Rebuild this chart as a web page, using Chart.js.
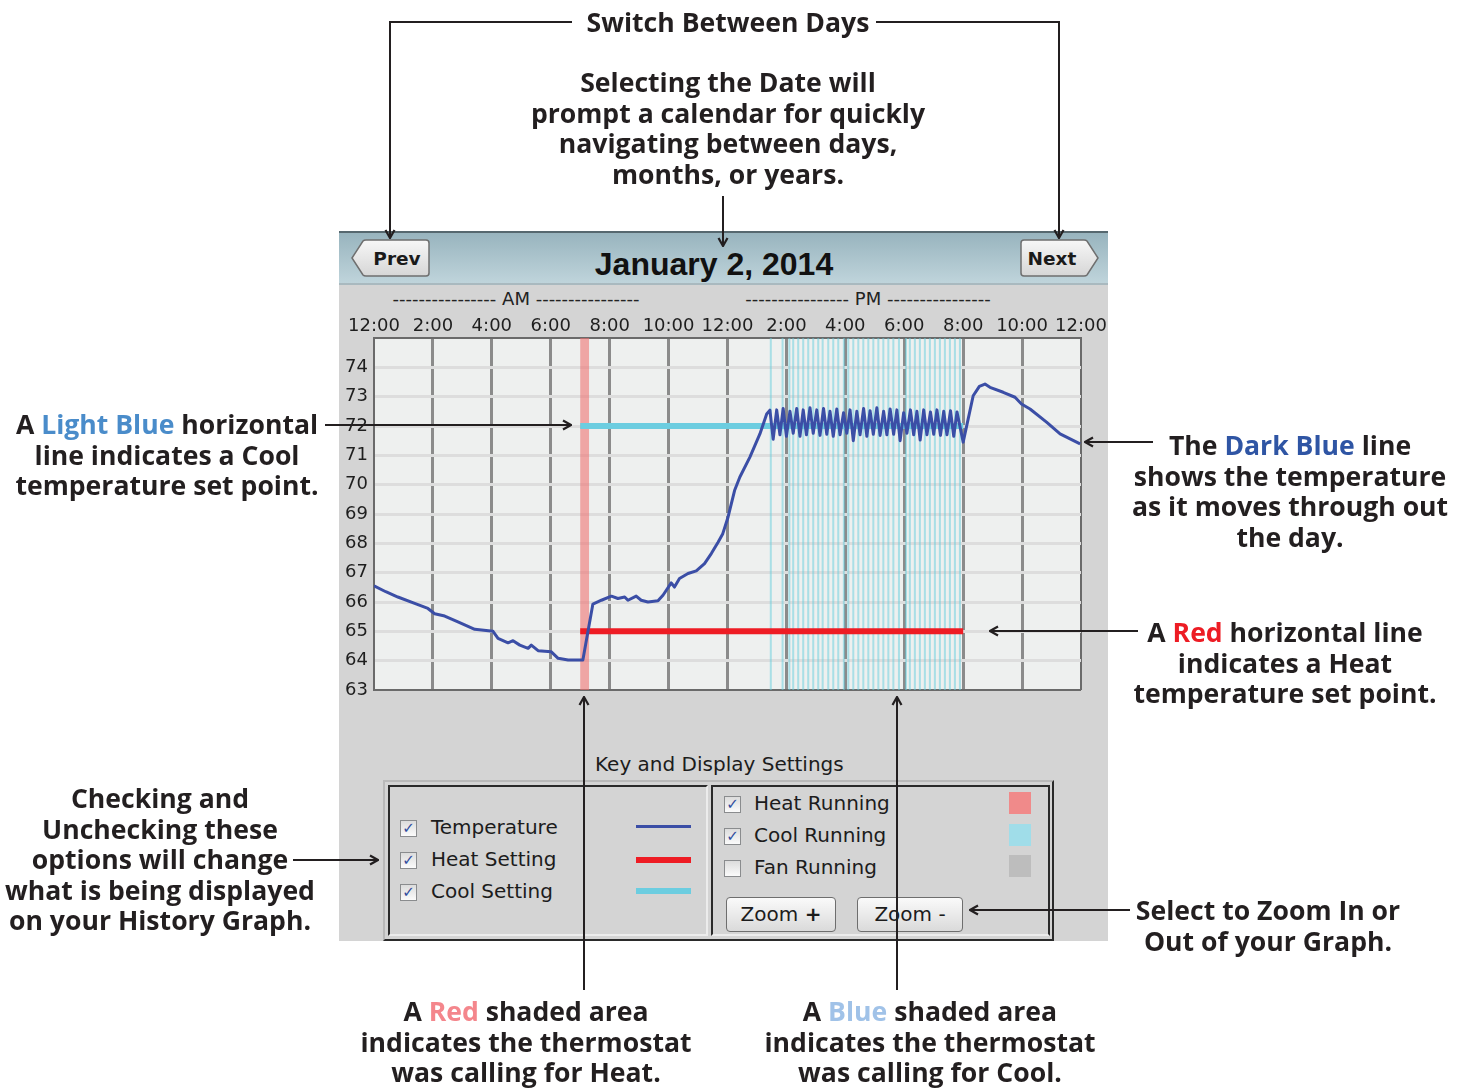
<!DOCTYPE html>
<html>
<head>
<meta charset="utf-8">
<script src="https://cdn.jsdelivr.net/npm/chart.js@4"></script>
<style>
  body { margin: 0; width: 1465px; height: 1088px; background: #fff; position: relative; overflow: hidden; }
  .abs { position: absolute; }
  .note { position: absolute; font-family: 'Open Sans', sans-serif; font-weight: 700; font-size: 26.6px; line-height: 30.5px;
          color: #231f20; text-align: center; white-space: nowrap; transform: translateX(-50%); z-index: 6; }
  #panel { left: 339px; top: 231px; width: 769px; height: 710px; background: #d4d4d4; }
  #head { left: 339px; top: 231px; width: 769px; height: 50px; background: linear-gradient(#98b4be, #bfd4db);
          border-top: 2px solid #56686f; border-bottom: 2px solid #a9b9bf; }
  #title { left: 714px; top: 246px; transform: translateX(-50%); font-family: 'Liberation Sans', sans-serif; font-weight: 700;
           font-size: 32px; color: #111; white-space: nowrap; }
  .ampm { font-family: 'DejaVu Sans', sans-serif; font-size: 18px; color: #222; white-space: nowrap; transform: translateX(-50%); top: 288px; }
  #wrap { left: 340px; top: 300px; width: 800px; height: 400px; z-index: 2; }
  .key { font-family: 'DejaVu Sans', sans-serif; font-size: 20px; color: #1c1c1c; white-space: nowrap; z-index: 3; }
  .cb { width: 15px; height: 15px; border: 1px solid #8a8c8e; background: linear-gradient(#dcdcdc, #fbfbfb); z-index: 3;
        font-family: 'DejaVu Sans', sans-serif; font-weight: 700; font-size: 15px; line-height: 15px; text-align: center; color: #2f4c9e; }
  .btn { border: 1px solid #6e6e6e; border-radius: 4px; background: linear-gradient(#fafafa, #dadada); z-index: 3;
         font-family: 'DejaVu Sans', sans-serif; font-size: 20px; line-height: 33px; text-align: center; color: #1c1c1c; }
  svg.ov { position: absolute; left: 0; top: 0; z-index: 5; }
</style>
</head>
<body>
<div class="abs" id="panel"></div>
<div class="abs" id="head"></div>

<svg class="abs" style="left:350px;top:238px;z-index:3" width="84" height="40">
  <defs><linearGradient id="bg1" x1="0" y1="0" x2="0" y2="1"><stop offset="0" stop-color="#f7f7f7"/><stop offset="1" stop-color="#d6d6d6"/></linearGradient></defs>
  <path d="M2,20 L13,3 Q14,2 16,2 L76,2 Q79,2 79,5 L79,35 Q79,38 76,38 L16,38 Q14,38 13,37 Z" fill="url(#bg1)" stroke="#6f6f6f" stroke-width="1.5"/>
  <text x="47" y="27" text-anchor="middle" font-family="DejaVu Sans" font-weight="700" font-size="18.5" fill="#1a1a1a">Prev</text>
</svg>
<svg class="abs" style="left:1016px;top:238px;z-index:3" width="84" height="40">
  <path d="M82,20 L71,3 Q70,2 68,2 L8,2 Q5,2 5,5 L5,35 Q5,38 8,38 L68,38 Q70,38 71,37 Z" fill="url(#bg1)" stroke="#6f6f6f" stroke-width="1.5"/>
  <text x="36" y="27" text-anchor="middle" font-family="DejaVu Sans" font-weight="700" font-size="18.5" fill="#1a1a1a">Next</text>
</svg>
<div class="abs" id="title">January 2, 2014</div>
<div class="abs ampm" style="left:516px">---------------- AM ----------------</div>
<div class="abs ampm" style="left:868px">---------------- PM ----------------</div>

<div class="abs" id="wrap"><canvas id="history"></canvas></div>

<!-- key and display settings -->
<div class="abs key" style="left:595px;top:752px">Key and Display Settings</div>
<div class="abs" style="left:383px;top:780px;width:667px;height:157px;border-top:2px solid #b9b9b9;border-left:2px solid #b9b9b9;border-right:2px solid #2a2a2a;border-bottom:2px solid #2a2a2a;z-index:3"></div>
<div class="abs" style="left:388px;top:785px;width:316px;height:147px;border-top:2px solid #2a2a2a;border-left:2px solid #2a2a2a;border-right:2px solid #ececec;border-bottom:2px solid #ececec;z-index:3"></div>
<div class="abs" style="left:711px;top:785px;width:335px;height:147px;border-top:2px solid #2a2a2a;border-left:2px solid #2a2a2a;border-right:2px solid #2a2a2a;border-bottom:2px solid #ececec;z-index:3"></div>

<div class="abs cb" style="left:400px;top:820px">✓</div>
<div class="abs cb" style="left:400px;top:852px">✓</div>
<div class="abs cb" style="left:400px;top:884px">✓</div>
<div class="abs key" style="left:431px;top:815px">Temperature</div>
<div class="abs key" style="left:431px;top:847px">Heat Setting</div>
<div class="abs key" style="left:431px;top:879px">Cool Setting</div>
<div class="abs" style="left:636px;top:825px;width:55px;height:3px;background:#3b4ea6;z-index:3"></div>
<div class="abs" style="left:636px;top:857px;width:55px;height:6px;background:#ee1c24;z-index:3"></div>
<div class="abs" style="left:636px;top:888px;width:55px;height:6px;background:#6ccde0;z-index:3"></div>

<div class="abs cb" style="left:724px;top:796px">✓</div>
<div class="abs cb" style="left:724px;top:828px">✓</div>
<div class="abs cb" style="left:724px;top:860px"></div>
<div class="abs key" style="left:754px;top:791px">Heat Running</div>
<div class="abs key" style="left:754px;top:823px">Cool Running</div>
<div class="abs key" style="left:754px;top:855px">Fan Running</div>
<div class="abs" style="left:1009px;top:792px;width:22px;height:22px;background:#f08a8a;z-index:3"></div>
<div class="abs" style="left:1009px;top:824px;width:22px;height:22px;background:#a0dde9;z-index:3"></div>
<div class="abs" style="left:1009px;top:855px;width:22px;height:22px;background:#bdbdbd;z-index:3"></div>
<div class="abs btn" style="left:726px;top:897px;width:108px;height:33px">Zoom <b>+</b></div>
<div class="abs btn" style="left:857px;top:897px;width:104px;height:33px">Zoom -</div>

<!-- callouts -->
<svg class="ov" width="1465" height="1088">
  <defs>
    <marker id="ah" viewBox="0 0 12 12" refX="11" refY="6" markerWidth="12" markerHeight="12" markerUnits="userSpaceOnUse" orient="auto">
      <path d="M3,1.5 L11,6 L3,10.5" fill="none" stroke="#231f20" stroke-width="2.2"/>
    </marker>
  </defs>
  <g fill="none" stroke="#231f20" stroke-width="2">
    <polyline points="572,22 390,22 390,238" marker-end="url(#ah)"/>
    <polyline points="876,22 1059,22 1059,238" marker-end="url(#ah)"/>
    <line x1="723" y1="196" x2="723" y2="246" marker-end="url(#ah)"/>
    <line x1="325" y1="425" x2="571" y2="425" marker-end="url(#ah)"/>
    <line x1="1153" y1="442" x2="1085" y2="442" marker-end="url(#ah)"/>
    <line x1="1138" y1="631" x2="990" y2="631" marker-end="url(#ah)"/>
    <line x1="293" y1="860" x2="378" y2="860" marker-end="url(#ah)"/>
    <line x1="584" y1="990" x2="584" y2="697" marker-end="url(#ah)"/>
    <line x1="897" y1="990" x2="897" y2="697" marker-end="url(#ah)"/>
    <line x1="1130" y1="910" x2="970" y2="910" marker-end="url(#ah)"/>
  </g>
</svg>

<div class="note" style="left:728px;top:7px">Switch Between Days</div>
<div class="note" style="left:728px;top:67px">Selecting the Date will<br>prompt a calendar for quickly<br>navigating between days,<br>months, or years.</div>
<div class="note" style="left:167px;top:409px">A <span style="color:#4a8cca">Light Blue</span> horizontal<br>line indicates a Cool<br>temperature set point.</div>
<div class="note" style="left:1290px;top:430px">The <span style="color:#2f55a4">Dark Blue</span> line<br>shows the temperature<br>as it moves through out<br>the day.</div>
<div class="note" style="left:1285px;top:617px">A <span style="color:#ed1c24">Red</span> horizontal line<br>indicates a Heat<br>temperature set point.</div>
<div class="note" style="left:160px;top:783px">Checking and<br>Unchecking these<br>options will change<br>what is being displayed<br>on your History Graph.</div>
<div class="note" style="left:526px;top:996px">A <span style="color:#f4868c">Red</span> shaded area<br>indicates the thermostat<br>was calling for Heat.</div>
<div class="note" style="left:930px;top:996px">A <span style="color:#a0c2e8">Blue</span> shaded area<br>indicates the thermostat<br>was calling for Cool.</div>
<div class="note" style="left:1268px;top:895px">Select to Zoom In or<br>Out of your Graph.</div>

<script>
'use strict';

// hour axis (0 = midnight, 24 = next midnight)
const hourTicks = [0, 2, 4, 6, 8, 10, 12, 14, 16, 18, 20, 22, 24];
const hourLabels = ['12:00', '2:00', '4:00', '6:00', '8:00', '10:00', '12:00', '2:00', '4:00', '6:00', '8:00', '10:00', '12:00'];
const tempTicks = [63, 64, 65, 66, 67, 68, 69, 70, 71, 72, 73, 74];

// measured indoor temperature
const tempTimes = [
  0.00, 0.40, 0.81, 1.38, 1.83, 2.06, 2.40, 2.85, 3.42, 4.04, 4.21, 4.55, 4.72, 4.95, 5.23, 5.34, 5.57, 6.02, 6.25, 6.59,
  7.09, 7.43, 7.72, 8.06, 8.28, 8.51, 8.62, 8.90, 9.07, 9.30, 9.64, 9.81, 10.09, 10.20, 10.37, 10.66, 10.94, 11.22, 11.45,
  11.68, 11.84, 12.02, 12.24, 12.42, 12.76, 13.10, 13.33, 13.44,
  13.55, 13.67, 13.78, 13.89, 14.00, 14.12, 14.23, 14.35, 14.46, 14.57, 14.68, 14.80, 14.91, 15.03, 15.14, 15.26, 15.37,
  15.48, 15.59, 15.71, 15.82, 15.94, 16.05, 16.16, 16.27, 16.39, 16.50, 16.62, 16.73, 16.84, 16.95, 17.07, 17.18, 17.30,
  17.41, 17.52, 17.64, 17.75, 17.86, 17.98, 18.09, 18.21, 18.32, 18.43, 18.54, 18.66, 18.77, 18.89, 19.00, 19.11, 19.23,
  19.34, 19.45, 19.57, 19.68, 19.79, 20.00,
  20.34, 20.55, 20.74, 20.91, 21.36, 21.76, 21.98, 22.27, 22.83, 23.29, 23.97
];
const tempValues = [
  66.55, 66.35, 66.17, 65.95, 65.78, 65.60, 65.52, 65.32, 65.07, 65.00, 64.76, 64.61, 64.68, 64.53, 64.42, 64.53, 64.34, 64.30, 64.08, 64.02,
  64.02, 65.93, 66.06, 66.20, 66.12, 66.17, 66.06, 66.20, 66.06, 66.00, 66.04, 66.23, 66.65, 66.51, 66.80, 66.97, 67.06, 67.31, 67.65,
  68.04, 68.33, 68.90, 69.80, 70.26, 70.94, 71.73, 72.41, 72.54,
  71.55, 72.55, 71.70, 72.60, 71.65, 72.50, 71.75, 72.60, 71.65, 72.55, 71.70, 72.62, 71.75, 72.55, 71.68, 72.60, 71.72,
  72.50, 71.65, 72.58, 71.70, 72.45, 71.75, 72.55, 71.50, 72.50, 71.70, 72.60, 71.65, 72.52, 71.72, 72.62, 71.68, 72.50,
  71.70, 72.58, 71.72, 72.55, 71.50, 72.45, 71.75, 72.55, 71.70, 72.50, 71.52, 72.55, 71.70, 72.48, 71.72, 72.55, 71.68,
  72.50, 71.70, 72.52, 71.65, 72.48, 71.45,
  73.03, 73.35, 73.43, 73.32, 73.15, 72.98, 72.75, 72.58, 72.13, 71.73, 71.39
];

// set points
const heatSetTimes = [7.0, 20.0];
const heatSetValues = [65, 65];
const coolSetTimes = [7.0, 20.0];
const coolSetValues = [72, 72];

// equipment running periods (hours)
const heatRunStarts = [7.0];
const heatRunEnds = [7.3];
const coolRunStarts = [
  13.47, 13.87, 14.10, 14.23, 14.40, 14.57, 14.74, 14.91, 15.08, 15.23, 15.42, 15.59, 15.76, 15.95, 16.10, 16.27, 16.44,
  16.61, 16.78, 16.95, 17.12, 17.29, 17.46, 17.63, 17.82, 18.06, 18.19, 18.36, 18.53, 18.70, 18.87, 19.04, 19.21, 19.38,
  19.55, 19.72, 19.89
];

function toPoints(xs, ys) {
  return xs.map((x, i) => ({ x: x, y: ys[i] }));
}

const plotBackground = {
  id: 'plotBackground',
  beforeDraw(chart) {
    const a = chart.chartArea;
    chart.ctx.save();
    chart.ctx.fillStyle = '#eef0ef';
    chart.ctx.fillRect(a.left, a.top, a.right - a.left, a.bottom - a.top);
    chart.ctx.restore();
  }
};

const runBands = {
  id: 'runBands',
  beforeDatasetsDraw(chart) {
    const ctx = chart.ctx;
    const a = chart.chartArea;
    const x = chart.scales.x;
    ctx.save();
    ctx.fillStyle = 'rgba(240,110,110,0.58)';
    heatRunStarts.forEach((t, i) => {
      const x0 = x.getPixelForValue(t);
      const x1 = x.getPixelForValue(heatRunEnds[i]);
      ctx.fillRect(x0, a.top, x1 - x0, a.bottom - a.top);
    });
    ctx.fillStyle = 'rgba(100,205,222,0.5)';
    coolRunStarts.forEach(t => {
      const x0 = x.getPixelForValue(t);
      ctx.fillRect(x0 - 1, a.top, 2, a.bottom - a.top);
    });
    ctx.restore();
  }
};

function edgeColor(ctx, edges, edge, normal) {
  return edges.includes(ctx.tick.value) ? edge : normal;
}

let chartObject = {
  type: 'line',
  data: {
    datasets: [{
      label: 'Temperature',
      data: toPoints(tempTimes, tempValues),
      borderColor: '#3b4ea6',
      borderWidth: 3,
      borderJoinStyle: 'round',
      order: 0
    }, {
      label: 'Heat Setting',
      data: toPoints(heatSetTimes, heatSetValues),
      borderColor: '#ee1c24',
      borderWidth: 6,
      borderCapStyle: 'butt',
      order: 1
    }, {
      label: 'Cool Setting',
      data: toPoints(coolSetTimes, coolSetValues),
      borderColor: '#6ccde0',
      borderWidth: 6,
      borderCapStyle: 'butt',
      order: 2
    }]
  },
  options: {
    responsive: true,
    maintainAspectRatio: false,
    animation: false,
    layout: { padding: { left: 0, right: 59, top: 8, bottom: 10 } },
    elements: { point: { radius: 0 }, line: { tension: 0 } },
    plugins: { legend: { display: false }, tooltip: { enabled: false } },
    scales: {
      x: {
        type: 'linear',
        position: 'top',
        min: 0,
        max: 24,
        offset: false,
        afterBuildTicks: s => { s.ticks = hourTicks.map(v => ({ value: v })); },
        ticks: {
          autoSkip: false,
          maxRotation: 0,
          padding: 1,
          color: '#1e1e1e',
          font: { family: 'DejaVu Sans', size: 18 },
          callback: v => hourLabels[hourTicks.indexOf(v)]
        },
        grid: {
          drawTicks: false,
          color: c => edgeColor(c, [0, 24], '#6a6a6a', '#8b8b8b'),
          lineWidth: c => edgeColor(c, [0, 24], 2, 3)
        },
        border: { color: '#6a6a6a', width: 2 },
        afterFit: s => { s.height = 30; s.paddingLeft = 0; s.paddingRight = 0; }
      },
      y: {
        min: 63,
        max: 75,
        afterBuildTicks: s => { s.ticks = tempTicks.concat([75]).map(v => ({ value: v })); },
        ticks: {
          padding: 6,
          color: '#1e1e1e',
          font: { family: 'DejaVu Sans', size: 18 },
          callback: v => (tempTicks.includes(v) ? String(v) : '')
        },
        grid: {
          drawTicks: false,
          color: c => edgeColor(c, [63, 75], '#6a6a6a', '#dddddd'),
          lineWidth: c => edgeColor(c, [63, 75], 2, 3)
        },
        border: { color: '#6a6a6a', width: 2 },
        afterFit: s => { s.width = 34; s.paddingTop = 0; s.paddingBottom = 0; }
      }
    }
  },
  plugins: [plotBackground, runBands]
};

let ctx = document.getElementById('history').getContext('2d');
let myChart = new Chart(ctx, chartObject);
</script>
</body>
</html>
